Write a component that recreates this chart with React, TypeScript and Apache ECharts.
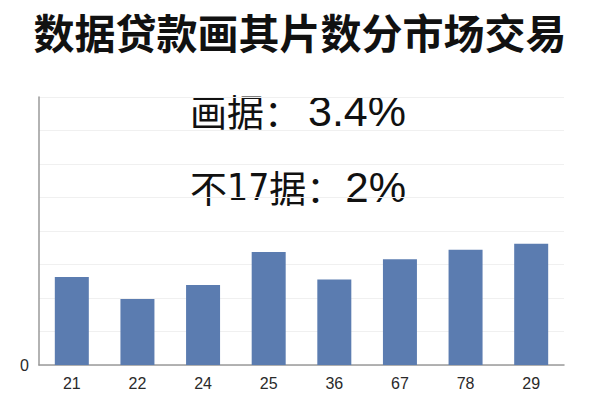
import React, { useEffect, useRef } from 'react';
import * as echarts from 'echarts';

const categories = ['21', '22', '24', '25', '36', '67', '78', '29'];
const values = [2.63, 1.97, 2.39, 3.37, 2.55, 3.16, 3.44, 3.62];
const titleText = '数据贷款画其片数分市场交易';
// annotation lines, as rich-text pieces
const noteLines = [
  '{a|画据：}{b|3.4%}',
  '{a|不}{n|17}{a|据：}{c|2%}',
];

const latin = '"Liberation Sans", "Noto Sans CJK SC", sans-serif';
const narrow = '"Liberation Sans Narrow", "DejaVu Sans Condensed", "Liberation Sans", sans-serif';
const cjk = '"Noto Sans CJK SC", sans-serif';

const App: React.FC = () => {
  const chartRef = useRef<HTMLDivElement | null>(null);

  useEffect(() => {
    if (!chartRef.current) return;
    const chart = echarts.init(chartRef.current, undefined, { renderer: 'svg' });

    const option: echarts.EChartsOption = {
      animation: false,
      backgroundColor: '#ffffff',
      title: {
        text: titleText,
        left: 'center',
        top: 5,
        textStyle: {
          fontFamily: cjk,
          fontSize: 41,
          fontWeight: 'bold',
          color: '#111111',
        },
      },
      grid: { left: 39, right: 36, top: 97, bottom: 35 },
      xAxis: {
        type: 'category',
        data: categories,
        axisLine: { lineStyle: { color: '#9a9a9a', width: 1.5 } },
        axisTick: { show: false },
        axisLabel: { color: '#2a2a2a', fontSize: 16, margin: 10, fontFamily: latin },
      },
      yAxis: {
        type: 'value',
        min: 0,
        max: 8,
        interval: 1,
        axisLine: { show: true, lineStyle: { color: '#9a9a9a', width: 1.5 } },
        axisTick: { show: false },
        axisLabel: {
          color: '#2a2a2a',
          fontSize: 16,
          margin: 10,
          fontFamily: latin,
          formatter: (v: number) => (v === 0 ? '0' : ''),
        },
        splitLine: { lineStyle: { color: '#f0f0f0', width: 1 } },
      },
      series: [
        {
          type: 'bar',
          data: values,
          barWidth: 34,
          itemStyle: { color: '#5b7cb0' },
        },
      ],
      graphic: noteLines.map((t, i) => ({
        type: 'text',
        x: 190,
        y: 111 + i * 76,
        style: {
          text: t,
          verticalAlign: 'middle',
          fill: '#111111',
          rich: {
            a: { fontSize: 37, fontFamily: cjk, fill: '#111111' },
            n: { fontSize: 37, fontFamily: narrow, fill: '#111111' },
            b: { fontSize: 43, fontFamily: latin, fill: '#111111', padding: [0, 0, 0, 7] },
            c: { fontSize: 42, fontFamily: latin, fill: '#111111', padding: [0, 0, 0, 2] },
          },
        },
      })),
    };

    chart.setOption(option);
    return () => {
      chart.dispose();
    };
  }, []);

  return (
    <div
      ref={chartRef}
      style={{ position: 'absolute', left: 0, top: 0, width: 600, height: 400 }}
    />
  );
};

export default App;
